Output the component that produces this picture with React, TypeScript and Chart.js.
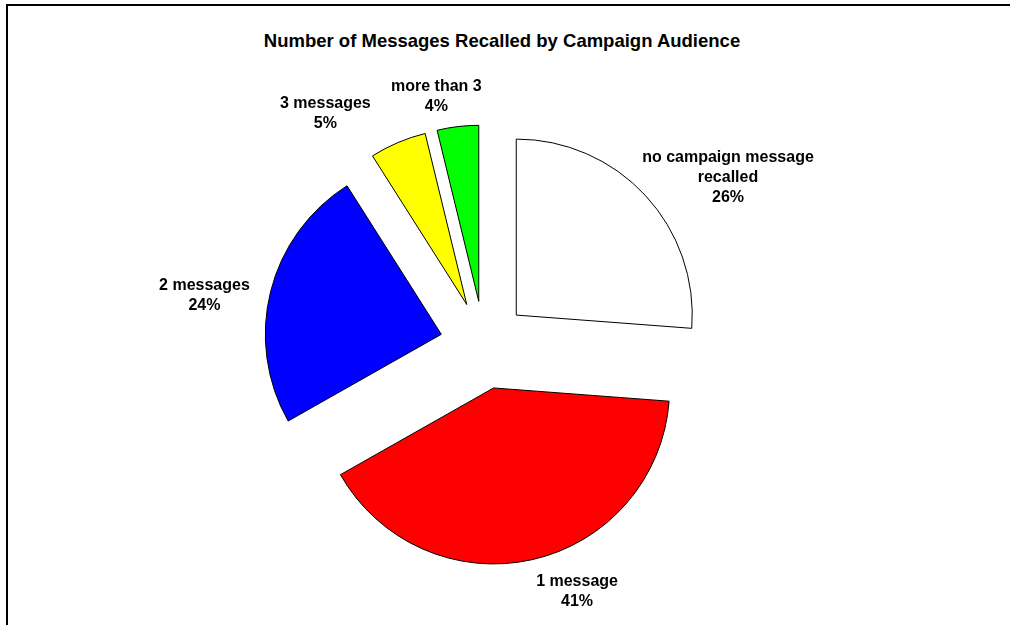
import React, { useEffect, useRef } from 'react';
import { Chart, registerables } from 'chart.js';

Chart.register(...registerables);

// ---- data ----
const chartTitle = 'Number of Messages Recalled by Campaign Audience';
const categories = ['no campaign message recalled', '1 message', '2 messages', '3 messages', 'more than 3'];
const shares = [26.2, 40.6, 24.2, 5.2, 3.8];
const sliceColors = ['#FFFFFF', '#FF0000', '#0000FF', '#FFFF00', '#00FF00'];

// ---- style ----
const FONT = '"Liberation Sans", Arial, Helvetica, sans-serif';
const PIE_RADIUS = 176;
const EXPLODE = 44;
const LABEL_SIZE = 16;
const LINE_H = 20;
const LABEL_GAP = 8;
const LABEL_WRAP = 200;
const DIR_GAIN = 2.5;
// fine placement of each data label relative to its computed best-fit spot
const labelNudgeX = [-9, 21, -13, -25, -7];
const labelNudgeY = [18, 4, 18, -2, -2];

const explodePlugin = {
  id: 'explodeSlices',
  afterDatasetsUpdate(chart: any) {
    const meta = chart.getDatasetMeta(0);
    meta.data.forEach((arc: any) => {
      const mid = (arc.startAngle + arc.endAngle) / 2;
      arc.x += Math.cos(mid) * EXPLODE;
      arc.y += Math.sin(mid) * EXPLODE;
    });
  },
};

function wrapText(ctx: CanvasRenderingContext2D, text: string, maxW: number): string[] {
  const words = text.split(' ');
  const lines: string[] = [];
  let cur = '';
  words.forEach((w) => {
    const test = cur ? cur + ' ' + w : w;
    if (ctx.measureText(test).width > maxW && cur) {
      lines.push(cur);
      cur = w;
    } else {
      cur = test;
    }
  });
  if (cur) lines.push(cur);
  return lines;
}

const clamp = (v: number) => Math.max(-1, Math.min(1, v));

const labelPlugin = {
  id: 'sliceLabels',
  afterDatasetsDraw(chart: any) {
    const ctx: CanvasRenderingContext2D = chart.ctx;
    const meta = chart.getDatasetMeta(0);
    const data = chart.data.datasets[0].data as number[];
    const total = data.reduce((a, b) => a + b, 0);
    ctx.save();
    ctx.font = `bold ${LABEL_SIZE}px ${FONT}`;
    ctx.fillStyle = '#000000';
    ctx.textAlign = 'center';
    ctx.textBaseline = 'middle';
    meta.data.forEach((arc: any, i: number) => {
      const lines = wrapText(ctx, String(chart.data.labels[i]), LABEL_WRAP);
      lines.push(Math.round((data[i] / total) * 100) + '%');
      const w = Math.max(...lines.map((l) => ctx.measureText(l).width));
      const h = lines.length * LINE_H;
      const mid = (arc.startAngle + arc.endAngle) / 2;
      const c = Math.cos(mid);
      const s = Math.sin(mid);
      const ax = arc.x + c * (arc.outerRadius + LABEL_GAP);
      const ay = arc.y + s * (arc.outerRadius + LABEL_GAP);
      const cx = ax + (w / 2) * clamp(c * DIR_GAIN) + labelNudgeX[i];
      const cy = ay + (h / 2) * clamp(s * DIR_GAIN) + labelNudgeY[i];
      lines.forEach((l, k) => {
        ctx.fillText(l, cx, cy - h / 2 + LINE_H / 2 + k * LINE_H);
      });
    });
    ctx.restore();
  },
};

export default function App() {
  const canvasRef = useRef<HTMLCanvasElement | null>(null);

  useEffect(() => {
    if (!canvasRef.current) return;
    const chart = new Chart(canvasRef.current, {
      type: 'pie',
      data: {
        labels: categories,
        datasets: [
          {
            data: shares,
            backgroundColor: sliceColors,
            borderColor: '#000000',
            borderWidth: 1,
            borderJoinStyle: 'miter',
            radius: PIE_RADIUS,
          } as any,
        ],
      },
      options: {
        animation: false,
        responsive: false,
        events: [],
        layout: { padding: { left: 0, right: 42, top: 50, bottom: 0 } },
        plugins: {
          legend: { display: false },
          title: { display: false },
          tooltip: { enabled: false },
        },
      },
      plugins: [explodePlugin, labelPlugin],
    });
    return () => chart.destroy();
  }, []);

  return (
    <div
      style={{
        position: 'fixed',
        left: 0,
        top: 0,
        width: 1010,
        height: 625,
        overflow: 'hidden',
        background: '#ffffff',
      }}
    >
      <div
        style={{
          position: 'absolute',
          left: 6,
          top: 4,
          width: 1200,
          height: 900,
          border: '2px solid #000000',
        }}
      />
      <div
        style={{
          position: 'absolute',
          left: 0,
          top: 30,
          width: 1004,
          textAlign: 'center',
          font: `bold 18.5px ${FONT}`,
          lineHeight: '22px',
          color: '#000000',
        }}
      >
        {chartTitle}
      </div>
      <canvas
        ref={canvasRef}
        width={1010}
        height={640}
        style={{ position: 'absolute', left: 0, top: 0, width: 1010, height: 640 }}
      />
    </div>
  );
}
